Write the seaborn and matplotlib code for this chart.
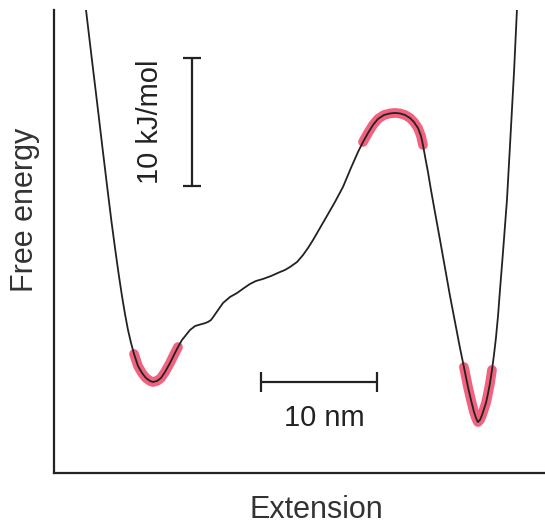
import numpy as np
import pandas as pd
import seaborn as sns
import matplotlib.pyplot as plt

# free energy profile (extension in nm, energy in kJ/mol)
extension = [2.76, 3.23, 3.71, 4.18, 4.66, 4.96, 5.26, 5.56, 5.86, 6.12,
             6.38, 6.64, 6.90, 7.24, 7.59, 7.93, 8.28, 8.53,
             8.88, 9.22, 9.57, 10.00, 10.34, 10.69, 11.03, 11.38, 11.72, 12.16,
             12.59, 12.93, 13.28, 13.53, 13.79, 14.14, 14.57, 15.17, 15.78, 16.38,
             16.90, 17.41, 18.02, 18.71, 19.48, 19.91, 20.34, 20.95, 21.47, 21.90,
             22.33, 22.93, 23.53, 24.22, 24.91, 25.60, 26.21, 26.64, 27.07, 27.50,
             27.93, 28.45, 28.97, 29.40,
             29.83, 30.26, 30.69, 31.03, 31.38, 31.64, 31.81, 31.98, 32.24, 32.50,
             32.84, 33.28, 33.71, 34.14, 34.57, 35.00, 35.34, 35.69, 35.95, 36.21,
             36.38, 36.55, 36.72, 36.90, 37.07, 37.24, 37.41, 37.59, 37.76, 37.93,
             38.10, 38.28, 38.45, 38.71, 39.05, 39.31, 39.48, 39.66, 39.91]
energy = [36.17, 32.58, 28.98, 25.39, 21.80, 19.61, 17.58, 15.63, 13.83, 12.42,
          11.17, 10.16, 9.30, 8.36, 7.81, 7.42, 7.19, 7.11,
          7.19, 7.42, 7.89, 8.59, 9.22, 9.84, 10.39, 10.78, 11.17, 11.48,
          11.60, 11.68, 11.80, 11.95, 12.27, 12.73, 13.28, 13.75, 14.06, 14.45,
          14.77, 15.00, 15.16, 15.39, 15.70, 15.86, 16.09, 16.48, 17.03, 17.58,
          18.20, 19.14, 20.08, 21.17, 22.34, 23.83, 25.08, 25.86, 26.56, 27.19,
          27.66, 27.97, 28.09, 28.13,
          28.09, 27.97, 27.73, 27.42, 26.95, 26.33, 25.63, 24.77, 23.52, 22.11,
          20.39, 18.20, 16.02, 13.83, 11.80, 9.77, 8.28, 6.72, 5.70, 4.77,
          4.30, 3.98, 4.14, 4.53, 5.00, 5.47, 6.17, 7.03, 8.05, 9.22,
          10.55, 12.27, 14.30, 17.27, 21.33, 25.55, 28.36, 31.33, 36.17]

# highlighted stretches (two minima and the barrier top)
highlights = [(6.72, 10.69), (26.6, 31.9), (35.25, 37.85)]

# scale bars
ebar_x, ebar_y0, ebar_len = 11.9, 22.42, 10
xbar_y, xbar_x0, xbar_len = 7.11, 17.84, 10

df = pd.DataFrame({'extension': extension, 'energy': energy})

sns.set_style('white')
plt.rcParams['font.family'] = ['Liberation Sans', 'DejaVu Sans']

fig = plt.figure(figsize=(5.45, 5.24), dpi=100)
ax = fig.add_axes([54 / 545, 51 / 524, 491 / 545, 463 / 524])

for lo, hi in highlights:
    part = df[(df.extension >= lo - 0.01) & (df.extension <= hi + 0.01)]
    sns.lineplot(data=part, x='extension', y='energy', ax=ax, estimator=None,
                 color='#ec1f48', alpha=0.7, lw=7, solid_capstyle='round')

sns.lineplot(data=df, x='extension', y='energy', ax=ax, estimator=None,
             color='#222222', lw=1.3)

# energy scale bar
ax.plot([ebar_x, ebar_x], [ebar_y0, ebar_y0 + ebar_len], color='#222222', lw=1.6,
        marker='_', markersize=13, markeredgewidth=1.6)
ax.text(ebar_x - 3.6, ebar_y0 + ebar_len / 2, '10 kJ/mol', rotation=90,
        ha='center', va='center', fontsize=21, color='#222222')

# extension scale bar
ax.plot([xbar_x0, xbar_x0 + xbar_len], [xbar_y, xbar_y], color='#222222', lw=1.6,
        marker='|', markersize=14, markeredgewidth=1.6)
ax.text(xbar_x0 + xbar_len / 2 + 0.5, xbar_y - 2.8, '10 nm',
        ha='center', va='center', fontsize=21, color='#222222')

ax.set_xlim(0, 42.33)
ax.set_ylim(0, 36.17)
ax.set_xticks([])
ax.set_yticks([])
sns.despine(ax=ax)
for side in ['left', 'bottom']:
    ax.spines[side].set_linewidth(1.6)
    ax.spines[side].set_color('#222222')

ax.set_xlabel('Extension', fontsize=22, color='#333333', va='center')
ax.set_ylabel('Free energy', fontsize=22, color='#333333', va='center')
ax.xaxis.set_label_coords(0.534, -0.08)
ax.yaxis.set_label_coords(-0.059, 0.568)

fig.savefig('out.png', dpi=100)
